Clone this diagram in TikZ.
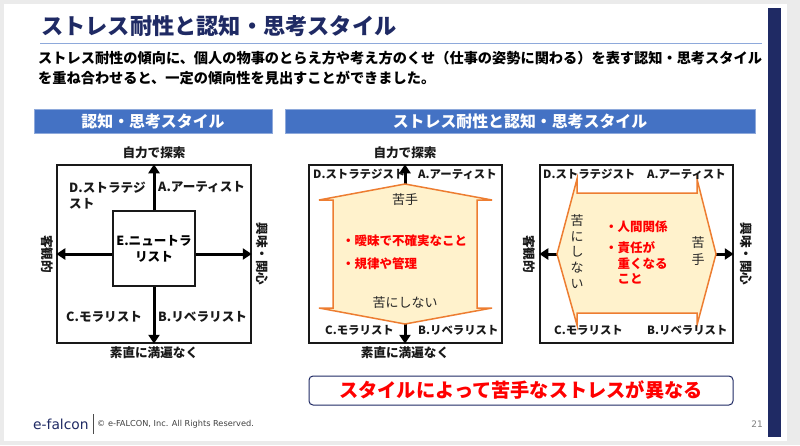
\documentclass[tikz,border=0pt]{standalone}
\usepackage{fontspec}
\setmainfont{Noto Sans CJK JP}
\newfontfamily\latinfont{DejaVu Sans}
\usetikzlibrary{arrows.meta}
\definecolor{navy}{HTML}{1F2A64}
\definecolor{hdr}{HTML}{4472C4}
\definecolor{hdredge}{HTML}{8EA9DB}
\definecolor{orangeedge}{HTML}{ED7D31}
\definecolor{cream}{HTML}{FFF2CC}
\tikzset{
 lbl/.style={font=\bfseries\fontsize{12.6}{15}\selectfont,inner sep=0pt,text=black!90},
 lblsm/.style={font=\bfseries\fontsize{11.4}{13}\selectfont,inner sep=0pt,text=black!90},
 axis/.style={font=\bfseries\fontsize{12.6}{14}\selectfont,inner sep=0pt,text=black!90},
 panel/.style={draw=black!90,line width=1.5pt,fill=white},
 axarrow/.style={draw=black,line width=3pt,-{Triangle[length=9pt,width=11pt]},shorten >=0pt},
 hbar/.style={fill=hdr,draw=hdredge,line width=.7pt,inner sep=0pt,text=white,font=\bfseries\fontsize{15.9}{18}\selectfont},
 blob/.style={fill=cream,draw=orangeedge,line width=1.5pt,line join=miter},
 redtxt/.style={text=red,font=\bfseries\fontsize{12.5}{15.5}\selectfont,inner sep=0pt,align=left},
 plain/.style={font=\fontsize{13}{15}\selectfont,inner sep=0pt,text=black!85},
}
\begin{document}
\begin{tikzpicture}[x=1pt,y=-1pt]
\useasboundingbox (0,0) rectangle (800,445);
\fill[black!8] (0,0) rectangle (800,445);
\fill[white] (4,4) rectangle (787,441);
\fill[navy] (768,8) rectangle (781,437);
\node[anchor=west,inner sep=0pt,text=navy,font=\bfseries\fontsize{22.2}{24}\selectfont] (title) at (41,26) {ストレス耐性と認知・思考スタイル};
\draw[hdredge,line width=.7pt] (40,43) -- (762,43);
\node[anchor=west,inner sep=0pt,font=\bfseries\fontsize{14.2}{16}\selectfont] (l1) at (38,58) {ストレス耐性の傾向に、個人の物事のとらえ方や考え方のくせ（仕事の姿勢に関わる）を表す認知・思考スタイル};
\node[anchor=west,inner sep=0pt,font=\bfseries\fontsize{14.2}{16}\selectfont] (l2) at (38,78) {を重ね合わせると、一定の傾向性を見出すことができました。};
\node[hbar,minimum width=238pt,minimum height=24pt] (h1) at (153,121) {認知・思考スタイル};
\node[hbar,minimum width=470pt,minimum height=24pt] (h2) at (520,121) {ストレス耐性と認知・思考スタイル};
% left panel
\node[panel,minimum width=194pt,minimum height=178pt,inner sep=0pt] (p1) at (154,254) {};
\node[panel,minimum width=82pt,minimum height=75pt,inner sep=0pt,align=center,font=\bfseries\fontsize{12.6}{16}\selectfont] (e) at (154,248.5) {E.ニュートラ\\リスト};
\draw[axarrow] (e.north) -- (p1.north);
\draw[axarrow] (e.south) -- (p1.south);
\draw[axarrow] (e.west|-p1.center) -- (p1.west);
\draw[axarrow] (e.east|-p1.center) -- (p1.east);
\node[lbl,anchor=west,align=left,font=\bfseries\fontsize{12.6}{15.5}\selectfont] (d1) at (69,195.5) {D.ストラテジ\\スト};
\node[lbl,anchor=west] (a1) at (158,187) {A.アーティスト};
\node[lbl,anchor=west] (c1) at (66,317) {C.モラリスト};
\node[lbl,anchor=west] (b1) at (158,317) {B.リベラリスト};
\node[axis] (t1) at (154,153) {自力で探索};
\node[axis] (u1) at (154,353) {素直に満遍なく};
\node[axis,rotate=-90] (w1) at (47,254) {客観的};
\node[axis,rotate=-90] (r1) at (262,254) {興味・関心};
% middle panel
\node[panel,minimum width=193pt,minimum height=178pt,inner sep=0pt] (p2) at (405.5,254) {};
\coordinate (mt) at (405,184);
\coordinate (mb) at (405,324);
\draw[axarrow] (mt) -- (p2.north-|mt);
\draw[axarrow] (mb) -- (p2.south-|mb);
\draw[blob] (mt) -- (492,200) -- (477,200) -- (477,308) -- (492,308) -- (mb) -- (319,308) -- (333,308) -- (333,200) -- (319,200) -- cycle;
\node[lblsm,anchor=west] (d2) at (313,174) {D.ストラテジスト};
\node[lblsm,anchor=west] (a2) at (418,174) {A.アーティスト};
\node[lblsm,anchor=west] (c2) at (325,330) {C.モラリスト};
\node[lblsm,anchor=west] (b2) at (418,330) {B.リベラリスト};
\node[plain] (m1) at (405,200) {苦手};
\node[plain] (m2) at (405,303) {苦にしない};
\node[redtxt,anchor=west] (m3) at (342,241) {・曖昧で不確実なこと};
\node[redtxt,anchor=west] (m4) at (342,264) {・規律や管理};
\node[axis] (t2) at (405,153) {自力で探索};
\node[axis] (u2) at (405,353) {素直に満遍なく};
% right panel
\node[panel,minimum width=193pt,minimum height=178pt,inner sep=0pt] (p3) at (636.5,254) {};
\coordinate (rl) at (557,254);
\coordinate (rr) at (716,254);
\draw[axarrow] (rl) -- (p3.west|-rl);
\draw[axarrow] (rr) -- (p3.east|-rr);
\draw[blob] (rl) -- (577,179) -- (577,193) -- (697,193) -- (697,179) -- (rr) -- (697,325) -- (697,313) -- (577,313) -- (577,325) -- cycle;
\node[lblsm,anchor=west] (d3) at (543,174) {D.ストラテジスト};
\node[lblsm,anchor=west] (a3) at (647,174) {A.アーティスト};
\node[lblsm,anchor=west] (c3) at (554,330) {C.モラリスト};
\node[lblsm,anchor=west] (b3) at (647,330) {B.リベラリスト};
\node[plain,align=center,text width=13pt,font=\fontsize{13}{15.7}\selectfont] (v1) at (577,251.5) {苦\\に\\し\\な\\い};
\node[plain,align=center,text width=13pt,font=\fontsize{13}{17}\selectfont] (v2) at (698,251) {苦\\手};
\node[redtxt,anchor=west] (r3) at (605,227) {・人間関係};
\node[redtxt,anchor=north west] (r4) at (605,241.5) {・責任が\\\hspace*{12.5pt}重くなる\\\hspace*{12.5pt}こと};
\node[axis,rotate=-90] (w3) at (529,254) {客観的};
\node[axis,rotate=-90] (r3b) at (746,254) {興味・関心};
% callout
\node[draw=navy,line width=1pt,rounded corners=4pt,fill=white,minimum width=424pt,minimum height=29pt,inner sep=0pt,text=red,font=\bfseries\fontsize{19.2}{21}\selectfont] (call) at (521,390.5) {スタイルによって苦手なストレスが異なる};
% footer
\node[anchor=west,inner sep=0pt,text=navy,font=\latinfont\fontsize{13.8}{15}\selectfont] (logo) at (33,424) {e-falcon};
\draw[black!70,line width=.6pt] (93,414) -- (93,434);
\node[anchor=west,inner sep=0pt,text=black!75,font=\latinfont\fontsize{8.2}{10}\selectfont] (copy) at (97,424) {© e-FALCON, Inc. All Rights Reserved.};
\node[anchor=east,inner sep=0pt,text=black!50,font=\latinfont\fontsize{9}{11}\selectfont] (pg) at (763,424) {21};
\end{tikzpicture}
\end{document}
